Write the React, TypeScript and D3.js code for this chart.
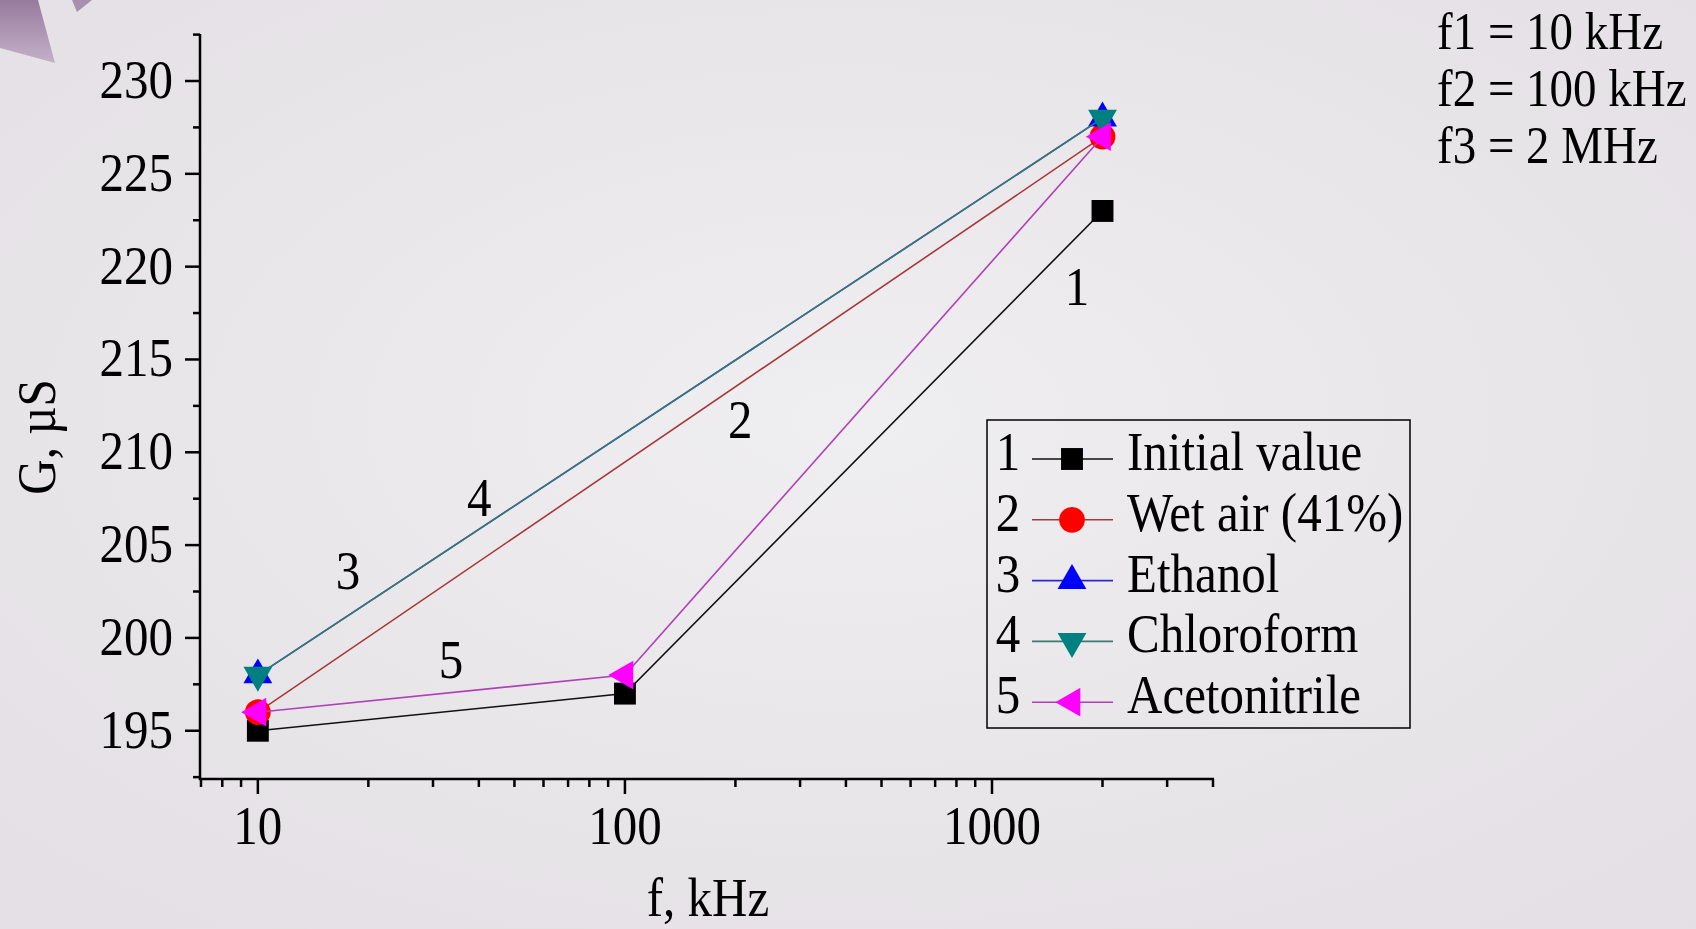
import React from 'react';
import * as d3 from 'd3';

// frequencies, kHz
const fAll = [10, 100, 2000];
const fEnds = [10, 2000];

// conductance G, µS
const gInitial = [195, 197, 223];
const gWetAir = [196, 227];
const gEthanol = [198, 228];
const gChloroform = [198, 228];
const gAcetonitrile = [196, 198, 227];

const seriesNames = ['Initial value', 'Wet air (41%)', 'Ethanol', 'Chloroform', 'Acetonitrile'];
const yTicks = [195, 200, 205, 210, 215, 220, 225, 230];
const xTicks = [10, 100, 1000];
const noteLines = ['f1 = 10 kHz', 'f2 = 100 kHz', 'f3 = 2 MHz'];

// curve numbers placed on the plot (data units)
const curveNotes = [
  { t: '1', f: 1705, g: 218.9 },
  { t: '2', f: 206, g: 211.75 },
  { t: '3', f: 17.6, g: 203.6 },
  { t: '4', f: 40.1, g: 207.55 },
  { t: '5', f: 33.6, g: 198.8 },
];

const W = 1696, H = 929;
const FONT = '"Liberation Serif", "Times New Roman", serif';

const x = d3.scaleLog().domain([7, 4000]).range([201, 1213]);
const y = d3.scaleLinear().domain([192.4, 232.5]).range([779, 34.6]);

const series = [
  { f: fAll, g: gInitial, line: '#111', fill: '#000', sym: d3.symbolSquare, size: 480, rot: 0 },
  { f: fEnds, g: gWetAir, line: '#a83838', fill: '#ff0000', sym: d3.symbolCircle, size: 520, rot: 0 },
  { f: fEnds, g: gEthanol, line: '#2a2ad0', fill: '#0000ff', sym: d3.symbolTriangle, size: 360, rot: 0 },
  { f: fEnds, g: gChloroform, line: '#3a7a70', fill: '#008080', sym: d3.symbolTriangle, size: 360, rot: 180 },
  { f: fAll, g: gAcetonitrile, line: '#b040b8', fill: '#ff00ff', sym: d3.symbolTriangle, size: 360, rot: -90 },
];

function T({ x, y, children, anchor = 'start', size = 49, rotate = 0 }: any) {
  return (
    <text transform={`translate(${x},${y}) rotate(${rotate}) scale(1,1.12)`}
          textAnchor={anchor} fontFamily={FONT} fontSize={size} fill="#000">
      {children}
    </text>
  );
}

export default function App() {
  const line = d3.line<[number, number]>().x(d => x(d[0])).y(d => y(d[1]));
  const yMinor = d3.range(192.5, 232.6, 2.5).filter(v => !yTicks.includes(v));
  const xMinor = x.ticks().filter(v => !xTicks.includes(v));

  return (
    <svg width={W} height={H} style={{ position: 'absolute', left: 0, top: 0 }}>
      <defs>
        <radialGradient id="bg" cx="50%" cy="45%" r="75%">
          <stop offset="0%" stopColor="#efeef0" />
          <stop offset="100%" stopColor="#e3dfe4" />
        </radialGradient>
        <linearGradient id="deco" x1="0" y1="0" x2="0" y2="1">
          <stop offset="0%" stopColor="#977b9e" />
          <stop offset="100%" stopColor="#c3b1c7" />
        </linearGradient>
      </defs>
      <rect width={W} height={H} fill="url(#bg)" />
      <polygon points="0,0 38,0 55,63 0,48" fill="url(#deco)" />
      <polygon points="72,0 92,0 77,12" fill="#a88fae" />

      {/* axes */}
      <g stroke="#000" strokeWidth={2.5}>
        <line x1={200} x2={200} y1={34} y2={780} />
        <line x1={199} x2={1214} y1={779} y2={779} />
        {yTicks.map(v => <line key={v} x1={185} x2={200} y1={y(v)} y2={y(v)} />)}
        {yMinor.map(v => <line key={v} x1={193} x2={200} y1={y(v)} y2={y(v)} />)}
        {xTicks.map(v => <line key={v} x1={x(v)} x2={x(v)} y1={779} y2={794} />)}
        {xMinor.map(v => <line key={v} x1={x(v)} x2={x(v)} y1={779} y2={787} />)}
      </g>
      {yTicks.map(v => <T key={v} x={173} y={y(v) + 17} anchor="end">{v}</T>)}
      {xTicks.map(v => <T key={v} x={x(v)} y={844} anchor="middle">{v}</T>)}
      <T x={708} y={916} anchor="middle">f, kHz</T>
      <T x={55} y={437} anchor="middle" rotate={-90}>G, µS</T>

      {/* series */}
      {series.map((s, i) => (
        <g key={i}>
          <path d={line(s.f.map((f, j) => [f, s.g[j]]))!} fill="none" stroke={s.line} strokeWidth={1.6} />
          {s.f.map((f, j) => (
            <path key={j} d={d3.symbol(s.sym, s.size)()!} fill={s.fill}
                  transform={`translate(${x(f)},${y(s.g[j])}) rotate(${s.rot})`} />
          ))}
        </g>
      ))}

      {curveNotes.map(n => <T key={n.t} x={x(n.f)} y={y(n.g) + 18} anchor="middle">{n.t}</T>)}

      {/* legend */}
      <rect x={987} y={420} width={423} height={308} fill="none" stroke="#000" strokeWidth={1.5} />
      {series.map((s, i) => {
        const by = 470 + i * 60.8;
        const my = by - 11;
        return (
          <g key={i}>
            <T x={1008} y={by} anchor="middle">{i + 1}</T>
            <line x1={1032} x2={1113} y1={my} y2={my} stroke={s.line} strokeWidth={1.6} />
            <path d={d3.symbol(s.sym, s.size)()!} fill={s.fill}
                  transform={`translate(1072,${my}) rotate(${s.rot})`} />
            <T x={1127} y={by}>{seriesNames[i]}</T>
          </g>
        );
      })}

      {noteLines.map((t, i) => <T key={t} x={1437} y={49 + i * 57} size={47}>{t}</T>)}
    </svg>
  );
}
